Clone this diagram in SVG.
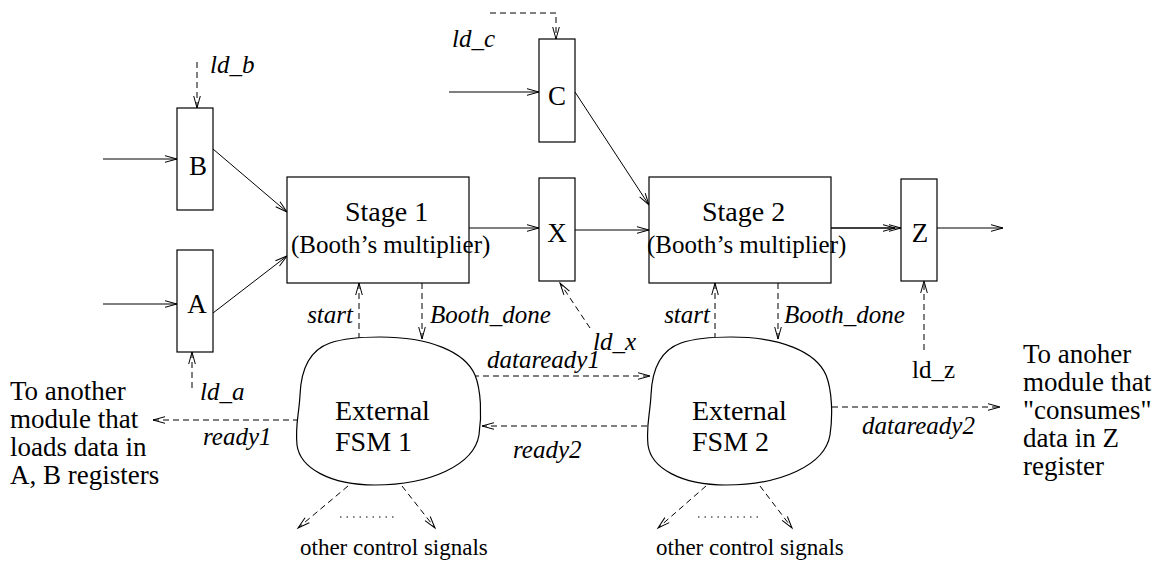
<svg xmlns="http://www.w3.org/2000/svg" width="1173" height="561" viewBox="0 0 1173 561">
<defs>
<marker id="ah" markerUnits="userSpaceOnUse" markerWidth="14" markerHeight="10" refX="12" refY="4" orient="auto" overflow="visible">
<path d="M0,0.7 L12,4 L0,7.3" fill="none" stroke="#000" stroke-width="1"/>
</marker>
<style>
.bx{fill:#fff;stroke:#000;stroke-width:1.2}
.blob{fill:#fff;stroke:#000;stroke-width:1.2}
.ln{fill:none;stroke:#000;stroke-width:1}
.ds{fill:none;stroke:#000;stroke-width:1;stroke-dasharray:6 4}
.t{font-family:"Liberation Serif","Times New Roman",serif;fill:#000}
.big{font-size:28px}
.side{font-size:27px}
.mid{font-size:25px}
.let{font-size:27px}
.it{font-size:25px;font-style:italic}
.sm{font-size:23px}
</style>
</defs>
<rect width="1173" height="561" fill="#fff"/>

<g id="connectors">
<path class="ln" d="M103,159 H177" marker-end="url(#ah)"/>
<path class="ln" d="M103,304 H177" marker-end="url(#ah)"/>
<path class="ln" d="M213,149 L287,212" marker-end="url(#ah)"/>
<path class="ln" d="M213,313 L287,256" marker-end="url(#ah)"/>
<path class="ln" d="M449,92 H539" marker-end="url(#ah)"/>
<path class="ln" d="M575,92 L649,205" marker-end="url(#ah)"/>
<path class="ln" d="M467,228 H539" marker-end="url(#ah)"/>
<path class="ln" d="M575,230 H649" marker-end="url(#ah)"/>
<path class="ln" d="M823,228 H901" marker-end="url(#ah)"/>
<path class="ln" d="M823,228 H895" marker-end="url(#ah)"/>
<path class="ln" d="M937,228 H1003" marker-end="url(#ah)"/>
<path class="ds" d="M197,62 V108" marker-end="url(#ah)"/>
<path class="ds" d="M490,13 H556 V39" marker-end="url(#ah)"/>
<path class="ds" d="M192,388 V352" marker-end="url(#ah)"/>
<path class="ds" d="M590,328 L560,283" marker-end="url(#ah)"/>
<path class="ds" d="M924,350 V281" marker-end="url(#ah)"/>
<path class="ds" d="M359,339 V283" marker-end="url(#ah)"/>
<path class="ds" d="M422,283 V339" marker-end="url(#ah)"/>
<path class="ds" d="M715,339 V283" marker-end="url(#ah)"/>
<path class="ds" d="M778,283 V339" marker-end="url(#ah)"/>
<path class="ds" d="M473,376 H650" marker-end="url(#ah)"/>
<path class="ds" d="M647,426 H482" marker-end="url(#ah)"/>
<path class="ds" d="M299,420 H153" marker-end="url(#ah)"/>
<path class="ds" d="M832,407 H1000" marker-end="url(#ah)"/>
<path class="ds" d="M348,486 L298,528" marker-end="url(#ah)"/>
<path class="ds" d="M402,486 L435,528" marker-end="url(#ah)"/>
<path class="ds" d="M706,486 L658,528" marker-end="url(#ah)"/>
<path class="ds" d="M760,486 L792,528" marker-end="url(#ah)"/>
<path class="ln" d="M340,517 H398" stroke-dasharray="1.5 5"/>
<path class="ln" d="M698,517 H758" stroke-dasharray="1.5 5"/>
</g>

<g id="nodeB"><rect class="bx" x="177" y="108" width="36" height="102"/><text class="t let" x="198" y="175" text-anchor="middle">B</text></g>
<g id="nodeA"><rect class="bx" x="177" y="250" width="36" height="102"/><text class="t let" x="197" y="313" text-anchor="middle">A</text></g>
<g id="nodeC"><rect class="bx" x="539" y="39" width="36" height="103"/><text class="t let" x="557" y="105" text-anchor="middle">C</text></g>
<g id="nodeX"><rect class="bx" x="539" y="178" width="36" height="103"/><text class="t let" x="557" y="242" text-anchor="middle">X</text></g>
<g id="nodeZ"><rect class="bx" x="901" y="179" width="36" height="102"/><text class="t let" x="920" y="242" text-anchor="middle">Z</text></g>
<g id="stage1"><rect class="bx" x="287" y="177" width="182" height="106"/>
<text class="t big" x="345" y="221">Stage 1</text>
<text class="t mid" x="291" y="253">(Booth’s multiplier)</text></g>
<g id="stage2"><rect class="bx" x="649" y="177" width="182" height="106"/>
<text class="t big" x="702" y="221">Stage 2</text>
<text class="t mid" x="647" y="253">(Booth’s multiplier)</text></g>
<g id="fsm1"><path class="blob" d="M380,337 C430,337 465,352 475,375 C481,390 482,415 479,435 C474,465 430,485 375,485 C330,485 300,468 297,445 C295,425 299,415 300,395 C301,370 310,350 330,343 C345,338 360,337 380,337 Z"/>
<text class="t big" x="335" y="420">External</text><text class="t big" x="335" y="451">FSM 1</text></g>
<g id="fsm2"><path class="blob" d="M731,337 C781,337 816,352 826,375 C832,390 833,415 830,435 C825,465 781,485 726,485 C681,485 651,468 648,445 C646,425 650,415 651,395 C652,370 661,350 681,343 C696,338 711,337 731,337 Z"/>
<text class="t big" x="692" y="420">External</text><text class="t big" x="692" y="451">FSM 2</text></g>

<g id="labels">
<text class="t it" x="210" y="73">ld_b</text>
<text class="t it" x="452" y="47">ld_c</text>
<text class="t it" x="200" y="400">ld_a</text>
<text class="t it" x="593" y="350">ld_x</text>
<text class="t mid" x="912" y="378">ld_z</text>
<text class="t it" x="353" y="323" text-anchor="end">start</text>
<text class="t it" x="430" y="323">Booth_done</text>
<text class="t it" x="710" y="323" text-anchor="end">start</text>
<text class="t it" x="784" y="323">Booth_done</text>
<text class="t it" x="487" y="368">dataready1</text>
<text class="t it" x="513" y="458">ready2</text>
<text class="t it" x="203" y="445">ready1</text>
<text class="t it" x="862" y="434">dataready2</text>
<text class="t sm" x="300" y="555">other control signals</text>
<text class="t sm" x="656" y="555">other control signals</text>
<text class="t side" x="10" y="400">To another</text>
<text class="t side" x="10" y="428">module that</text>
<text class="t side" x="10" y="456">loads data in</text>
<text class="t side" x="10" y="484">A, B registers</text>
<text class="t side" x="1023" y="363">To anoher</text>
<text class="t side" x="1023" y="391">module that</text>
<text class="t side" x="1023" y="419">"consumes"</text>
<text class="t side" x="1023" y="447">data in Z</text>
<text class="t side" x="1023" y="475">register</text>
</g>
</svg>
